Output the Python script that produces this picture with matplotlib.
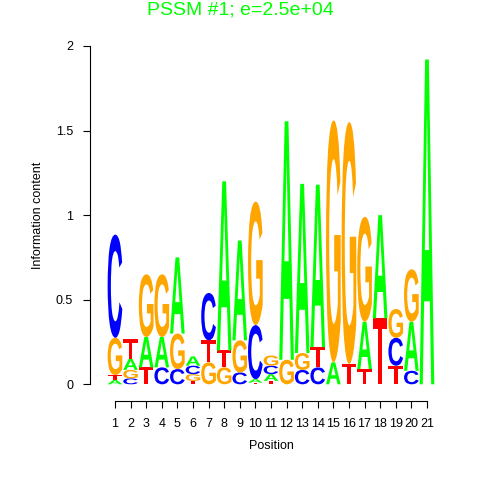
import numpy as np
import matplotlib
matplotlib.use("Agg")
import matplotlib.pyplot as plt
from matplotlib.textpath import TextPath
from matplotlib.font_manager import FontProperties
from matplotlib.patches import PathPatch
from matplotlib.transforms import Affine2D

plt.rcParams['font.family'] = ['Liberation Sans', 'DejaVu Sans']

# information content per letter, positions 1..21
positions = list(range(1, 22))
A = [0.025, 0.065, 0.18, 0.18, 0.45, 0.055, 0.0, 1.0, 0.59, 0.02, 0.04,
     1.41, 1.0, 0.96, 0.13, 0.0, 0.28, 0.61, 0.0, 0.29, 1.92]
C = [0.61, 0.035, 0.0, 0.10, 0.09, 0.05, 0.28, 0.0, 0.07, 0.32, 0.05,
     0.0, 0.085, 0.10, 0.0, 0.0, 0.0, 0.0, 0.165, 0.08, 0.0]
G = [0.22, 0.05, 0.37, 0.37, 0.21, 0.04, 0.13, 0.10, 0.19, 0.73, 0.06,
     0.145, 0.10, 0.0, 1.43, 1.43, 0.62, 0.0, 0.17, 0.31, 0.0]
T = [0.03, 0.115, 0.10, 0.0, 0.0, 0.02, 0.13, 0.10, 0.0, 0.01, 0.02,
     0.0, 0.0, 0.12, 0.0, 0.12, 0.09, 0.39, 0.11, 0.0, 0.0]
yticks = [0, 0.5, 1, 1.5, 2]
yticklabels = ['0', '0.5', '1', '1.5', '2']

colors = {'A': '#00FF00', 'C': '#0000FF', 'G': '#FFA500', 'T': '#FF0000'}
fp = FontProperties(family='Liberation Sans', weight='bold')


def draw_letter(ax, ch, x, y0, h, w=0.94):
    tp = TextPath((0, 0), ch, size=1, prop=fp)
    ext = tp.get_extents()
    tr = (Affine2D().translate(-ext.x0, -ext.y0)
          .scale(w / ext.width, h / ext.height)
          .translate(x - w / 2, y0))
    ax.add_patch(PathPatch(tr.transform_path(tp), fc=colors[ch], ec='none', lw=0))


fig = plt.figure(figsize=(4.8, 4.8), dpi=100)
ax = fig.add_axes([90 / 480, 79 / 480, 351 / 480, 355 / 480])
ax.set_xlim(-0.6, 21.9)
ax.set_ylim(-0.0987, 2.0)

for i, p in enumerate(positions):
    col = sorted([('A', A[i]), ('C', C[i]), ('G', G[i]), ('T', T[i])], key=lambda t: t[1])
    y = 0.0
    for ch, h in col:
        if h > 0:
            draw_letter(ax, ch, p, y, h)
            y += h

for s in ['top', 'right']:
    ax.spines[s].set_visible(False)
ax.spines['left'].set_bounds(0, 2)
ax.spines['bottom'].set_bounds(1, 21)
for s in ['left', 'bottom']:
    ax.spines[s].set_linewidth(0.8)

ax.set_xticks(positions)
ax.set_xticklabels([str(p) for p in positions])
ax.set_yticks(yticks)
ax.set_yticklabels(yticklabels)
ax.tick_params(direction='out', length=5.2, width=0.8, labelsize=9)
ax.tick_params(axis='x', pad=7)
ax.tick_params(axis='y', pad=7)

fig.text(38 / 480, 1 - 215 / 480, 'Information content', rotation=90,
         ha='center', va='center', fontsize=9)
fig.text(271 / 480, 1 - 446 / 480, 'Position', ha='center', va='center', fontsize=9)
fig.text(0.5, 1 - 10 / 480, 'PSSM #1; e=2.5e+04', color='#00FF00',
         ha='center', va='center', fontsize=14)

fig.savefig('out.png', dpi=100)
